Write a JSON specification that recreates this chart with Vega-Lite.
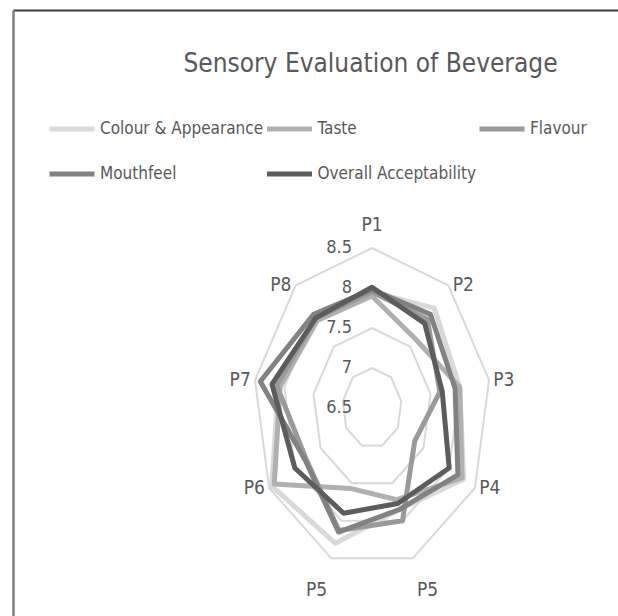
{
  "$schema": "https://vega.github.io/schema/vega-lite/v6.json",
  "width": 605,
  "height": 606,
  "autosize": {"type": "none"},
  "padding": {"left": 13, "top": 10, "right": 0, "bottom": 0},
  "background": "white",
  "config": {"view": {"stroke": null}, "font": "DejaVu Sans Condensed, Liberation Sans, sans-serif"},
  "title": {
    "text": "Sensory Evaluation of Beverage",
    "font": "DejaVu Sans Condensed, Liberation Sans, sans-serif",
    "fontSize": 26,
    "fontWeight": "normal",
    "color": "#595959",
    "anchor": "middle",
    "baseline": "alphabetic",
    "offset": 0,
    "dx": 55,
    "dy": 88
  },
  "datasets": {
    "scores": [
      {"series": "Colour & Appearance", "attribute": "P1", "idx": 0, "score": 7.95},
      {"series": "Colour & Appearance", "attribute": "P2", "idx": 1, "score": 8.13},
      {"series": "Colour & Appearance", "attribute": "P3", "idx": 2, "score": 8.0},
      {"series": "Colour & Appearance", "attribute": "P4", "idx": 3, "score": 8.28},
      {"series": "Colour & Appearance", "attribute": "P5", "idx": 4, "score": 7.85},
      {"series": "Colour & Appearance", "attribute": "P5", "idx": 5, "score": 8.3},
      {"series": "Colour & Appearance", "attribute": "P6", "idx": 6, "score": 8.45},
      {"series": "Colour & Appearance", "attribute": "P7", "idx": 7, "score": 8.1},
      {"series": "Colour & Appearance", "attribute": "P8", "idx": 8, "score": 7.95},
      {"series": "Taste", "attribute": "P1", "idx": 0, "score": 7.9},
      {"series": "Taste", "attribute": "P2", "idx": 1, "score": 7.63},
      {"series": "Taste", "attribute": "P3", "idx": 2, "score": 8.0},
      {"series": "Taste", "attribute": "P4", "idx": 3, "score": 8.25},
      {"series": "Taste", "attribute": "P5", "idx": 4, "score": 7.72},
      {"series": "Taste", "attribute": "P5", "idx": 5, "score": 7.57},
      {"series": "Taste", "attribute": "P6", "idx": 6, "score": 8.4},
      {"series": "Taste", "attribute": "P7", "idx": 7, "score": 8.07},
      {"series": "Taste", "attribute": "P8", "idx": 8, "score": 7.93},
      {"series": "Flavour", "attribute": "P1", "idx": 0, "score": 7.95},
      {"series": "Flavour", "attribute": "P2", "idx": 1, "score": 7.95},
      {"series": "Flavour", "attribute": "P3", "idx": 2, "score": 7.66},
      {"series": "Flavour", "attribute": "P4", "idx": 3, "score": 7.33},
      {"series": "Flavour", "attribute": "P5", "idx": 4, "score": 8.0},
      {"series": "Flavour", "attribute": "P5", "idx": 5, "score": 8.13},
      {"series": "Flavour", "attribute": "P6", "idx": 6, "score": 7.78},
      {"series": "Flavour", "attribute": "P7", "idx": 7, "score": 8.13},
      {"series": "Flavour", "attribute": "P8", "idx": 8, "score": 7.97},
      {"series": "Mouthfeel", "attribute": "P1", "idx": 0, "score": 7.98},
      {"series": "Mouthfeel", "attribute": "P2", "idx": 1, "score": 8.03},
      {"series": "Mouthfeel", "attribute": "P3", "idx": 2, "score": 7.92},
      {"series": "Mouthfeel", "attribute": "P4", "idx": 3, "score": 8.17},
      {"series": "Mouthfeel", "attribute": "P5", "idx": 4, "score": 7.85},
      {"series": "Mouthfeel", "attribute": "P5", "idx": 5, "score": 8.15},
      {"series": "Mouthfeel", "attribute": "P6", "idx": 6, "score": 7.8},
      {"series": "Mouthfeel", "attribute": "P7", "idx": 7, "score": 8.41},
      {"series": "Mouthfeel", "attribute": "P8", "idx": 8, "score": 8.03},
      {"series": "Overall Acceptability", "attribute": "P1", "idx": 0, "score": 8.01},
      {"series": "Overall Acceptability", "attribute": "P2", "idx": 1, "score": 7.88},
      {"series": "Overall Acceptability", "attribute": "P3", "idx": 2, "score": 7.7},
      {"series": "Overall Acceptability", "attribute": "P4", "idx": 3, "score": 8.0},
      {"series": "Overall Acceptability", "attribute": "P5", "idx": 4, "score": 7.77},
      {"series": "Overall Acceptability", "attribute": "P5", "idx": 5, "score": 7.9},
      {"series": "Overall Acceptability", "attribute": "P6", "idx": 6, "score": 8.0},
      {"series": "Overall Acceptability", "attribute": "P7", "idx": 7, "score": 8.21},
      {"series": "Overall Acceptability", "attribute": "P8", "idx": 8, "score": 7.97}
    ],
    "axes": [
      {"attribute": "P1", "idx": 0, "rings": [7, 7.5, 8, 8.5]},
      {"attribute": "P2", "idx": 1, "rings": [7, 7.5, 8, 8.5]},
      {"attribute": "P3", "idx": 2, "rings": [7, 7.5, 8, 8.5]},
      {"attribute": "P4", "idx": 3, "rings": [7, 7.5, 8, 8.5]},
      {"attribute": "P5", "idx": 4, "rings": [7, 7.5, 8, 8.5]},
      {"attribute": "P5", "idx": 5, "rings": [7, 7.5, 8, 8.5]},
      {"attribute": "P6", "idx": 6, "rings": [7, 7.5, 8, 8.5]},
      {"attribute": "P7", "idx": 7, "rings": [7, 7.5, 8, 8.5]},
      {"attribute": "P8", "idx": 8, "rings": [7, 7.5, 8, 8.5]}
    ],
    "levels": [
      {"level": 6.5, "label": "6.5"},
      {"level": 7, "label": "7"},
      {"level": 7.5, "label": "7.5"},
      {"level": 8, "label": "8"},
      {"level": 8.5, "label": "8.5"}
    ]
  },
  "encoding": {
    "x": {
      "field": "x", "type": "quantitative",
      "scale": {"domain": [-6.044, 4.141], "nice": false, "zero": false},
      "axis": {"orient": "top", "labels": false, "ticks": false, "grid": false, "title": null, "domainColor": "#3a3a3a", "domainWidth": 2}
    },
    "y": {
      "field": "y", "type": "quantitative",
      "scale": {"domain": [-2.6, 4.975], "nice": false, "zero": false},
      "axis": {"orient": "left", "labels": false, "ticks": false, "grid": false, "title": null, "domainColor": "#808080", "domainWidth": 2.5}
    }
  },
  "layer": [
    {
      "data": {"name": "axes"},
      "transform": [
        {"flatten": ["rings"], "as": ["ring"]},
        {"calculate": "datum.idx * 2 * PI / 9", "as": "ang"},
        {"calculate": "(datum.ring - 6.5) * sin(datum.ang)", "as": "x"},
        {"calculate": "(datum.ring - 6.5) * cos(datum.ang)", "as": "y"}
      ],
      "mark": {"type": "line", "interpolate": "linear-closed", "stroke": "#d9d9d9", "strokeWidth": 2},
      "encoding": {
        "detail": {"field": "ring", "type": "nominal"},
        "order": {"field": "idx", "type": "quantitative"}
      }
    },
    {
      "data": {"name": "scores"},
      "transform": [
        {"calculate": "datum.idx * 2 * PI / 9", "as": "ang"},
        {"calculate": "(datum.score - 6.5) * sin(datum.ang)", "as": "x"},
        {"calculate": "(datum.score - 6.5) * cos(datum.ang)", "as": "y"}
      ],
      "mark": {"type": "line", "interpolate": "linear-closed", "strokeWidth": 5, "strokeJoin": "round", "strokeCap": "round"},
      "encoding": {
        "color": {
          "field": "series", "type": "nominal",
          "scale": {
            "domain": ["Colour & Appearance", "Taste", "Flavour", "Mouthfeel", "Overall Acceptability"],
            "range": ["#d9d9d9", "#b0b0b0", "#9a9a9a", "#828282", "#5c5c5c"]
          },
          "legend": {
            "title": null,
            "orient": "none",
            "legendX": 34,
            "legendY": 94,
            "direction": "horizontal",
            "columns": 3,
            "gridAlign": "each",
            "columnPadding": -7.5,
            "rowPadding": 10,
            "padding": 0,
            "symbolType": "stroke",
            "symbolSize": 2025,
            "symbolStrokeWidth": 5,
            "labelFont": "DejaVu Sans Condensed, Liberation Sans, sans-serif",
            "labelFontSize": 17,
            "labelColor": "#595959",
            "labelLimit": 0,
            "labelOffset": 3
          }
        },
        "order": {"field": "idx", "type": "quantitative"}
      }
    },
    {
      "data": {"name": "levels"},
      "transform": [
        {"calculate": "0", "as": "x"},
        {"calculate": "datum.level - 6.5", "as": "y"}
      ],
      "mark": {"type": "text", "align": "right", "baseline": "middle", "dx": -20, "fontSize": 18, "color": "#595959"},
      "encoding": {"text": {"field": "label", "type": "nominal"}}
    },
    {
      "data": {"name": "axes"},
      "transform": [
        {"calculate": "datum.idx * 2 * PI / 9", "as": "ang"},
        {"calculate": "2 * sin(datum.ang) + (sin(datum.ang) > 0.01 ? 0.25 : sin(datum.ang) < -0.01 ? -0.25 : 0)", "as": "x"},
        {"calculate": "2 * cos(datum.ang) + (cos(datum.ang) > 0.9 ? 0.29 : cos(datum.ang) < -0.9 ? -0.4 : 0)", "as": "y"}
      ],
      "mark": {"type": "text", "align": "center", "baseline": "middle", "fontSize": 19, "color": "#595959"},
      "encoding": {"text": {"field": "attribute", "type": "nominal"}}
    }
  ]
}
